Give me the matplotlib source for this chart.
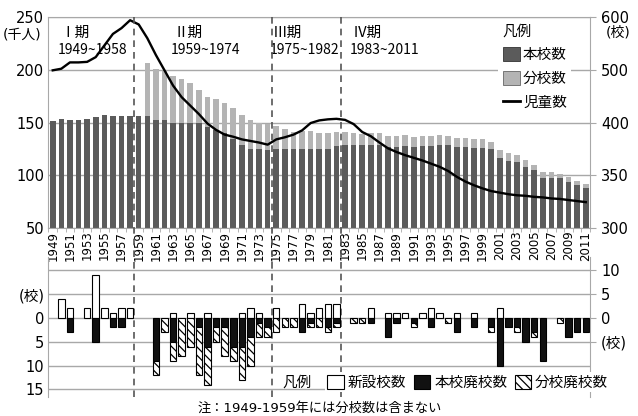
import matplotlib
matplotlib.use("Agg")
import matplotlib.pyplot as plt
import numpy as np
from matplotlib.patches import Patch
from matplotlib.lines import Line2D

plt.rcParams['font.family'] = ['DejaVu Sans', 'Noto Sans CJK JP']
plt.rcParams['hatch.linewidth'] = 0.9

years = list(range(1949, 2012))

# 本校数 / 分校数 (stacked bars, drawn on the left-axis scale), 児童数 (千人)
honkou = [151.5, 153, 152.5, 152.5, 153.5, 155.5, 157, 156.5, 156.5, 156.5,
          156.5, 156.5, 152.5, 152.5, 150, 150, 150, 149.5, 146, 143,
          140.5, 134, 128.5, 124.5, 125, 123.5, 125, 125, 125, 125,
          124.5, 125, 125, 127.5, 129, 129, 129, 129, 129, 127,
          127, 127.5, 126.5, 127.5, 127.5, 128.5, 128.5, 126.5, 126.5, 125.5,
          125.5, 124.5, 116, 113.5, 112.5, 108, 104.5, 97.5, 97.5, 97.5,
          93.5, 90.5, 87.5]
bunkou = [0, 0, 0, 0, 0, 0, 0, 0, 0, 0,
          0, 50, 48.5, 46, 44.5, 41, 37.5, 31.5, 28, 29,
          28, 30, 28.5, 27.5, 25, 25, 21.5, 18.5, 16, 17,
          17.5, 15, 15, 13.5, 12, 11, 10.5, 11, 11, 10,
          10, 10.5, 9.5, 9.5, 9.5, 9.5, 8.5, 8.5, 8.5, 8.5,
          8.5, 7, 7.5, 8, 6.5, 6, 5.5, 5.5, 5.5, 4,
          4.5, 4, 4]
jidou = [199.5, 201, 207, 207, 207.5, 212, 223, 234, 239.5, 247,
         243, 230, 214, 199.5, 185, 174, 166, 158, 149, 143,
         138.5, 136.5, 134, 132.5, 131, 129, 134, 136, 138.5, 142.5,
         149.5, 152, 153, 153.5, 152.5, 148.5, 141, 137, 131, 125.5,
         122, 119, 116.5, 114, 111, 108, 104, 98.5, 94, 90.5,
         87.5, 85, 83.5, 82, 81, 80.5, 79.5, 79, 78, 77.5,
         76.5, 75.5, 74.5]

# 新設校数 / 本校廃校数 / 分校廃校数
shinsetsu = [0, 4, 2, 0, 2, 9, 2, 1, 2, 2,
             0, 0, 0, 0, 1, 0, 1, 0, 1, 0,
             0, 0, 1, 2, 1, 0, 2, 0, 0, 3,
             1, 2, 3, 3, 0, 0, 0, 2, 0, 1,
             1, 1, 0, 1, 2, 1, 0, 1, 0, 1,
             0, 0, 2, 0, 0, 0, 0, 0, 0, 0,
             0, 0, 0]
honkou_haikou = [0, 0, 3, 0, 0, 5, 0, 2, 2, 0,
                 0, 0, 9, 0, 5, 0, 0, 2, 6, 2,
                 2, 6, 6, 4, 1, 2, 0, 0, 0, 3,
                 1, 0, 2, 1, 0, 0, 0, 1, 0, 4,
                 1, 0, 1, 0, 2, 0, 0, 3, 0, 2,
                 0, 2, 10, 2, 2, 5, 3, 9, 0, 0,
                 4, 3, 3]
bunkou_haikou = [0, 0, 0, 0, 0, 0, 0, 0, 0, 0,
                 0, 0, 3, 3, 4, 8, 6, 10, 8, 3,
                 6, 3, 7, 6, 3, 2, 3, 2, 2, 0,
                 1, 2, 1, 1, 0, 1, 1, 0, 0, 0,
                 0, 0, 1, 0, 0, 0, 1, 0, 0, 0,
                 0, 1, 0, 0, 1, 0, 1, 0, 0, 1,
                 0, 0, 0]

periods = [("Ⅰ期", "1949~1958", 1949), ("Ⅱ期", "1959~1974", 1959),
           ("Ⅲ期", "1975~1982", 1975), ("Ⅳ期", "1983~2011", 1983)]
period_text_x = [0.9, 14.0, 25.6, 34.9]

left_ticks = [250, 200, 150, 100, 50]
right_labels = ["600", "500", "400", "350", "300"]

dark = "#5b5b5b"
light = "#b4b4b4"
grid = "#a8a8a8"

x = np.arange(len(years))
fig = plt.figure(figsize=(6.38, 4.16), dpi=100)
ax = fig.add_axes([0.0759, 0.452, 0.849, 0.507])
axb = fig.add_axes([0.0759, 0.0457, 0.849, 0.3365])

# ---- top chart
for v in left_ticks:
    ax.axhline(v, color=grid, lw=1, zorder=0)
ax.bar(x, honkou, width=0.65, color=dark, zorder=2)
ax.bar(x, bunkou, width=0.65, bottom=honkou, color=light, zorder=2)
ax.plot(x, jidou, color="black", lw=1.7, zorder=3)
ax.set_xlim(-0.5, len(years) - 0.5)
ax.set_ylim(50, 250)
ax.set_yticks(left_ticks)
ax.tick_params(axis="y", length=0, labelsize=10.5, pad=3)
ax.set_xticks(x[::2])
ax.set_xticklabels([str(y) for y in years[::2]], rotation=90, fontsize=8.5)
ax.set_xticks(np.arange(-0.5, len(years), 1), minor=True)
ax.tick_params(axis="x", which="major", length=0, pad=2)
ax.tick_params(axis="x", which="minor", length=3, color=grid)
for s in ["left", "right", "top", "bottom"]:
    ax.spines[s].set_color(grid)

ax_r = ax.twinx()
ax_r.set_ylim(50, 250)
ax_r.set_yticks(left_ticks)
ax_r.set_yticklabels(right_labels)
ax_r.tick_params(axis="y", length=4, color=grid, labelsize=10.5, pad=4)
for s in ["left", "right", "top", "bottom"]:
    ax_r.spines[s].set_visible(False)

for (roman, span, start), tx in zip(periods, period_text_x):
    ax.text(tx, 235, roman, fontsize=10.5, va="center", ha="left",
            family=["Noto Sans CJK JP", "DejaVu Sans"])
    ax.text(tx - 0.3, 218.5, span, fontsize=10, va="center", ha="left",
            family=["Noto Sans CJK JP", "DejaVu Sans"])
    if start > 1949:
        xb = years.index(start) - 0.5
        ax.axvline(xb, ymin=-0.80, ymax=1, color="#555555", lw=1.2,
                   ls=(0, (4, 3)), clip_on=False, zorder=4)

fig.text(22 / 638, 1 - 34 / 416, "(千人)", fontsize=10, ha="center", va="center")
fig.text(618 / 638, 1 - 33 / 416, "(校)", fontsize=10, ha="center", va="center")

handles = [Patch(facecolor=dark, edgecolor="#333333", lw=0.6),
           Patch(facecolor=light, edgecolor="#666666", lw=0.6),
           Line2D([0], [0], color="black", lw=2)]
leg = ax.legend(handles, ["本校数", "分校数", "児童数"], title="凡例",
                loc="upper left", bbox_to_anchor=(491 / 638, 1 - 12 / 416),
                bbox_transform=fig.transFigure, fontsize=10.5,
                title_fontsize=10.5, frameon=True, facecolor="white",
                edgecolor="none", framealpha=1, fancybox=False,
                handlelength=1.2, handleheight=1.1, labelspacing=0.6,
                handletextpad=0.2, borderpad=0.3, alignment="left")
leg.set_zorder(5)

# ---- bottom chart
axb.patch.set_visible(False)
for v in [10, 5, 0, -5, -10, -15]:
    axb.axhline(v, color=grid, lw=1, zorder=0)
ns = [i for i in x if shinsetsu[i] > 0]
nh = [i for i in x if honkou_haikou[i] > 0]
nb = [i for i in x if bunkou_haikou[i] > 0]
axb.bar(ns, [shinsetsu[i] for i in ns], width=0.75, facecolor="white",
        edgecolor="black", lw=0.8, zorder=2)
axb.bar(nh, [-honkou_haikou[i] for i in nh], width=0.75, facecolor="#111111",
        edgecolor="black", lw=0.8, zorder=2)
axb.bar(nb, [-bunkou_haikou[i] for i in nb], width=0.75,
        bottom=[-honkou_haikou[i] for i in nb], facecolor="white",
        edgecolor="black", hatch="\\\\\\\\", lw=0.8, zorder=2)
axb.set_xlim(-0.5, len(years) - 0.5)
axb.set_ylim(-16.6, 12.8)
axb.set_xticks([])
axb.set_yticks([5, 0, -5, -10, -15])
axb.set_yticklabels(["(校)", "0", "5", "10", "15"])
axb.tick_params(axis="y", length=0, labelsize=10.5, pad=3)
for s in ["top", "bottom", "right"]:
    axb.spines[s].set_visible(False)
axb.spines["left"].set_color(grid)

axb_r = axb.twinx()
axb_r.set_ylim(-16.6, 12.8)
axb_r.set_yticks([10, 5, 0, -5, -15])
axb_r.set_yticklabels(["10", "5", "0", "(校)", ""])
axb_r.tick_params(axis="y", length=4, color=grid, labelsize=10.5, pad=4)
for s in ["top", "bottom", "left"]:
    axb_r.spines[s].set_visible(False)
axb_r.spines["right"].set_color(grid)

fig.text(297 / 638, 1 - 382 / 416, "凡例", fontsize=10.5, ha="center", va="center")
hb = [Patch(facecolor="white", edgecolor="black", lw=0.8),
      Patch(facecolor="#111111", edgecolor="black", lw=0.8),
      Patch(facecolor="white", edgecolor="black", hatch="\\\\\\\\", lw=0.8)]
legb = fig.legend(hb, ["新設校数", "本校廃校数", "分校廃校数"], ncol=3,
                  loc="center left", bbox_to_anchor=(318 / 638, 1 - 382 / 416),
                  fontsize=10.5, frameon=True, facecolor="white",
                  edgecolor="none", framealpha=1, fancybox=False,
                  handlelength=1.1, handleheight=1.1, columnspacing=0.5,
                  handletextpad=0.3, borderpad=0.15)

fig.text(320 / 638, 1 - 408 / 416, "注：1949-1959年には分校数は含まない",
         fontsize=9.5, ha="center", va="center")

fig.savefig("out.png", dpi=100)
